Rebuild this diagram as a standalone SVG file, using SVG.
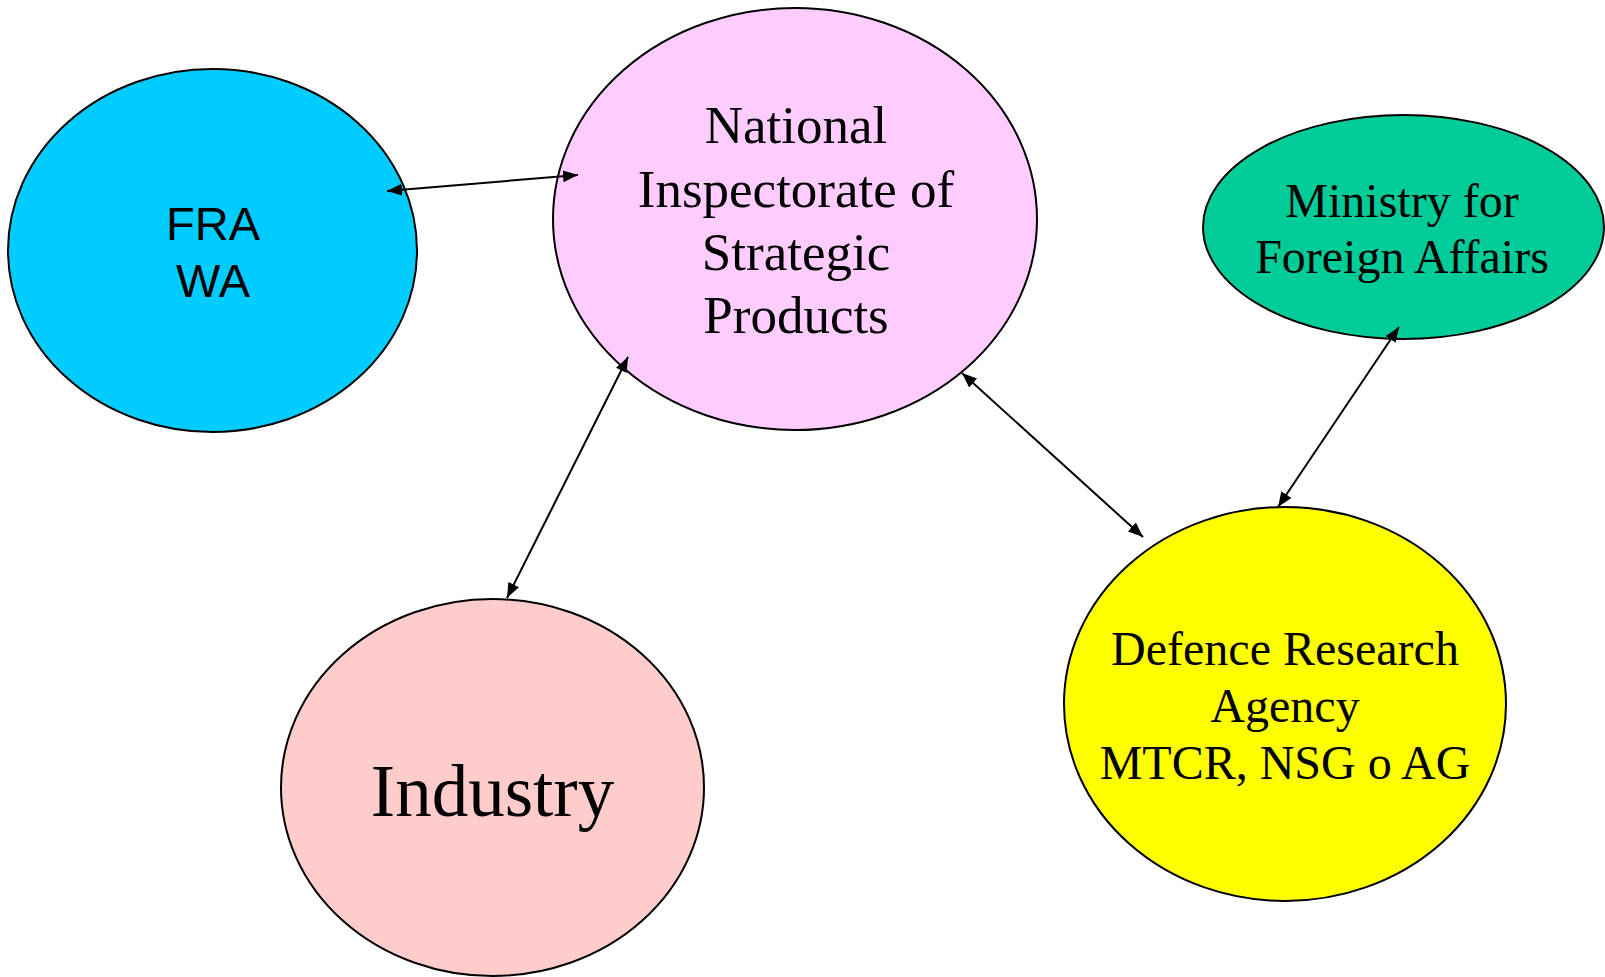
<svg xmlns="http://www.w3.org/2000/svg" width="1605" height="977" viewBox="0 0 1605 977">
<style>
.node{stroke:#000;stroke-width:2}
.serif{font-family:"Liberation Serif","Times New Roman",serif;fill:#000;text-anchor:middle}
.sans{font-family:"Liberation Sans",Arial,sans-serif;fill:#000;text-anchor:middle}
.conn{stroke:#000;stroke-width:2;fill:none;marker-start:url(#ah);marker-end:url(#ah)}
</style>
<defs>
<marker id="ah" markerUnits="userSpaceOnUse" markerWidth="16" markerHeight="13" refX="15" refY="6" orient="auto-start-reverse" viewBox="0 0 16 13">
<path d="M0,0 L15,6 L0,12 z" fill="#000"/>
</marker>
</defs>
<rect width="1605" height="977" fill="#fff"/>
<g id="n-fra">
<ellipse class="node" cx="212.5" cy="250.5" rx="204.5" ry="181.5" fill="#00CCFF"/>
<text class="sans" x="213" y="240" font-size="47">FRA</text>
<text class="sans" x="213" y="297" font-size="47">WA</text>
</g>
<g id="n-national">
<ellipse class="node" cx="795" cy="219" rx="242" ry="211" fill="#FFCCFF"/>
<text class="serif" x="796" y="143" font-size="53">National</text>
<text class="serif" x="796" y="207" font-size="53">Inspectorate of</text>
<text class="serif" x="796" y="270" font-size="53">Strategic</text>
<text class="serif" x="796" y="333" font-size="53">Products</text>
</g>
<g id="n-ministry">
<ellipse class="node" cx="1403.5" cy="227" rx="200.5" ry="112" fill="#00CC99"/>
<text class="serif" x="1402" y="217" font-size="48">Ministry for</text>
<text class="serif" x="1402" y="273" font-size="48">Foreign Affairs</text>
</g>
<g id="n-industry">
<ellipse class="node" cx="492.5" cy="787.5" rx="211.5" ry="188.5" fill="#FFCCCC"/>
<text class="serif" x="492.5" y="816" font-size="73">Industry</text>
</g>
<g id="n-defence">
<ellipse class="node" cx="1285" cy="704" rx="221" ry="197" fill="#FFFF00"/>
<text class="serif" x="1285" y="665" font-size="48">Defence Research</text>
<text class="serif" x="1285" y="722" font-size="48">Agency</text>
<text class="serif" x="1285" y="779" font-size="48">MTCR, NSG o AG</text>
</g>
<g id="connectors">
<line class="conn" x1="387" y1="191" x2="578" y2="175"/>
<line class="conn" x1="628" y1="357" x2="507" y2="598"/>
<line class="conn" x1="962" y1="373" x2="1143" y2="537"/>
<line class="conn" x1="1399" y1="327" x2="1278" y2="507"/>
</g>
</svg>
